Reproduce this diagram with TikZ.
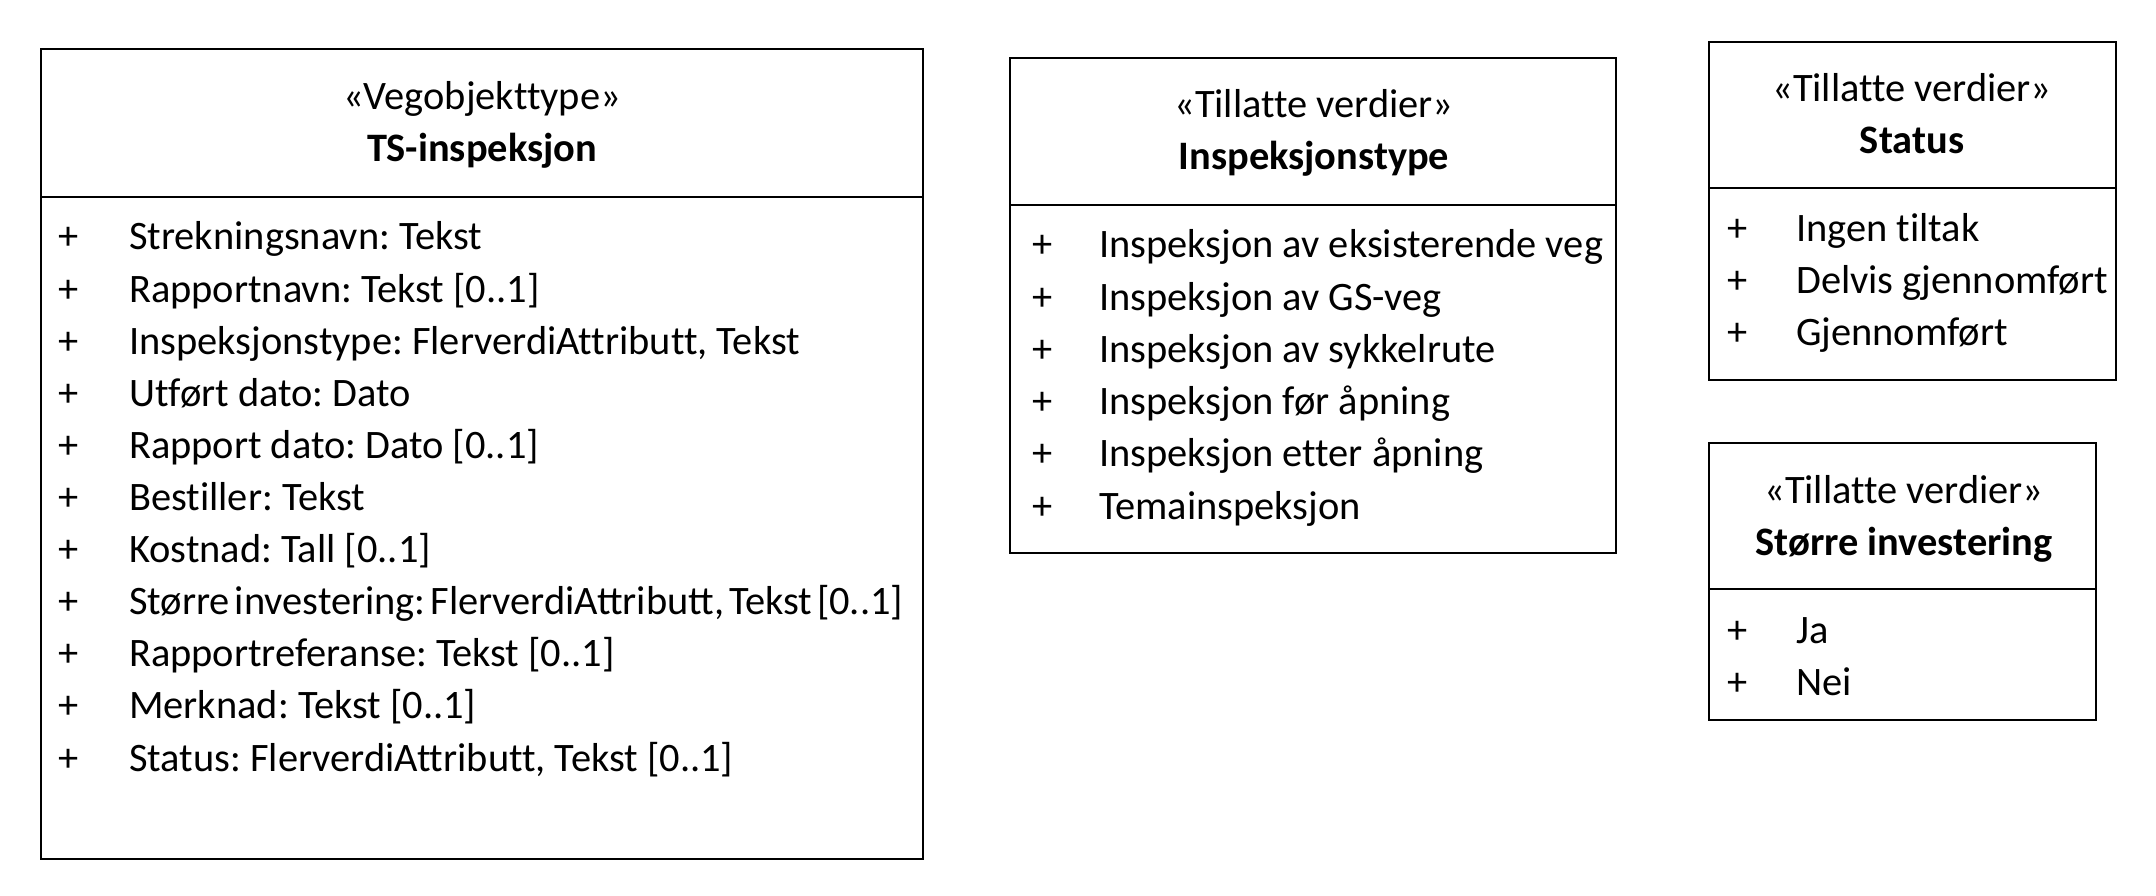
\documentclass[tikz,border=0pt]{standalone}
\usepackage{fontspec}
\setmainfont{Carlito}[Ligatures=NoCommon]
\frenchspacing
\begin{document}
\begin{tikzpicture}[x=1pt,y=-1pt,
  box/.style={draw,line width=1.6pt,rectangle,anchor=north west,inner sep=0pt},
  sep/.style={line width=1.6pt},
  txt/.style={font=\fontsize{40.4}{48}\selectfont,inner sep=0pt},
  head/.style={txt,anchor=base},
  bhead/.style={txt,anchor=base,font=\fontsize{40.4}{48}\selectfont\bfseries},
  item/.style={txt,anchor=base west},
  plus/.style={txt,anchor=base}
]
\useasboundingbox (0,0) rectangle (2156,896);
% Box 1
\node[box,minimum width=882pt,minimum height=810pt] (b1) at (40,48) {};
\coordinate (c1) at (0,197);
\draw[sep] (b1.west |- c1) -- (b1.east |- c1);
\node[head] (h1a) at (482,110) {«Vegobjekttype»};
\node[bhead] (h1b) at (482,162) {TS-inspeksjon};
\foreach \t [count=\i from 0] in {Strekningsnavn: Tekst,Rapportnavn: Tekst [0..1],Inspeksjonstype: FlerverdiAttributt{,} Tekst,Utført dato: Dato,Rapport dato: Dato [0..1],Bestiller: Tekst,Kostnad: Tall [0..1],{\addfontfeature{Ligatures=Common}\spaceskip=0.12em Større investering: FlerverdiAttributt, Tekst [0..1]},Rapportreferanse: Tekst [0..1],Merknad: Tekst [0..1],Status: FlerverdiAttributt{,} Tekst [0..1]}{
  \node[plus] (p1-\i) at (69,250+52.1*\i) {+};
  \node[item] (t1-\i) at (129,250+52.1*\i) {\t};
}
% Box 2
\node[box,minimum width=606pt,minimum height=495pt] (b2) at (1009,57) {};
\coordinate (c2) at (0,205);
\draw[sep] (b2.west |- c2) -- (b2.east |- c2);
\node[head] (h2a) at (1314,118) {«Tillatte verdier»};
\node[bhead] (h2b) at (1314,170) {Inspeksjonstype};
\foreach \t [count=\i from 0] in {Inspeksjon av eksisterende veg,Inspeksjon av GS-veg,Inspeksjon av sykkelrute,Inspeksjon før åpning,Inspeksjon etter åpning,Temainspeksjon}{
  \node[plus] (p2-\i) at (1043,258+52.2*\i) {+};
  \node[item] (t2-\i) at (1099,258+52.2*\i) {\t};
}
% Box 3
\node[box,minimum width=407pt,minimum height=338pt] (b3) at (1708,41) {};
\coordinate (c3) at (0,188);
\draw[sep] (b3.west |- c3) -- (b3.east |- c3);
\node[head] (h3a) at (1912,102) {«Tillatte verdier»};
\node[bhead] (h3b) at (1912,154) {Status};
\foreach \t [count=\i from 0] in {Ingen tiltak,Delvis gjennomført,Gjennomført}{
  \node[plus] (p3-\i) at (1738,242+51.8*\i) {+};
  \node[item] (t3-\i) at (1796,242+51.8*\i) {\t};
}
% Box 4
\node[box,minimum width=387pt,minimum height=277pt] (b4) at (1708,442) {};
\coordinate (c4) at (0,589);
\draw[sep] (b4.west |- c4) -- (b4.east |- c4);
\node[head] (h4a) at (1904,503) {«Tillatte verdier»};
\node[bhead] (h4b) at (1904,555) {Større investering};
\foreach \t [count=\i from 0] in {Ja,Nei}{
  \node[plus] (p4-\i) at (1738,643+52*\i) {+};
  \node[item] (t4-\i) at (1796,643+52*\i) {\t};
}
\end{tikzpicture}
\end{document}
